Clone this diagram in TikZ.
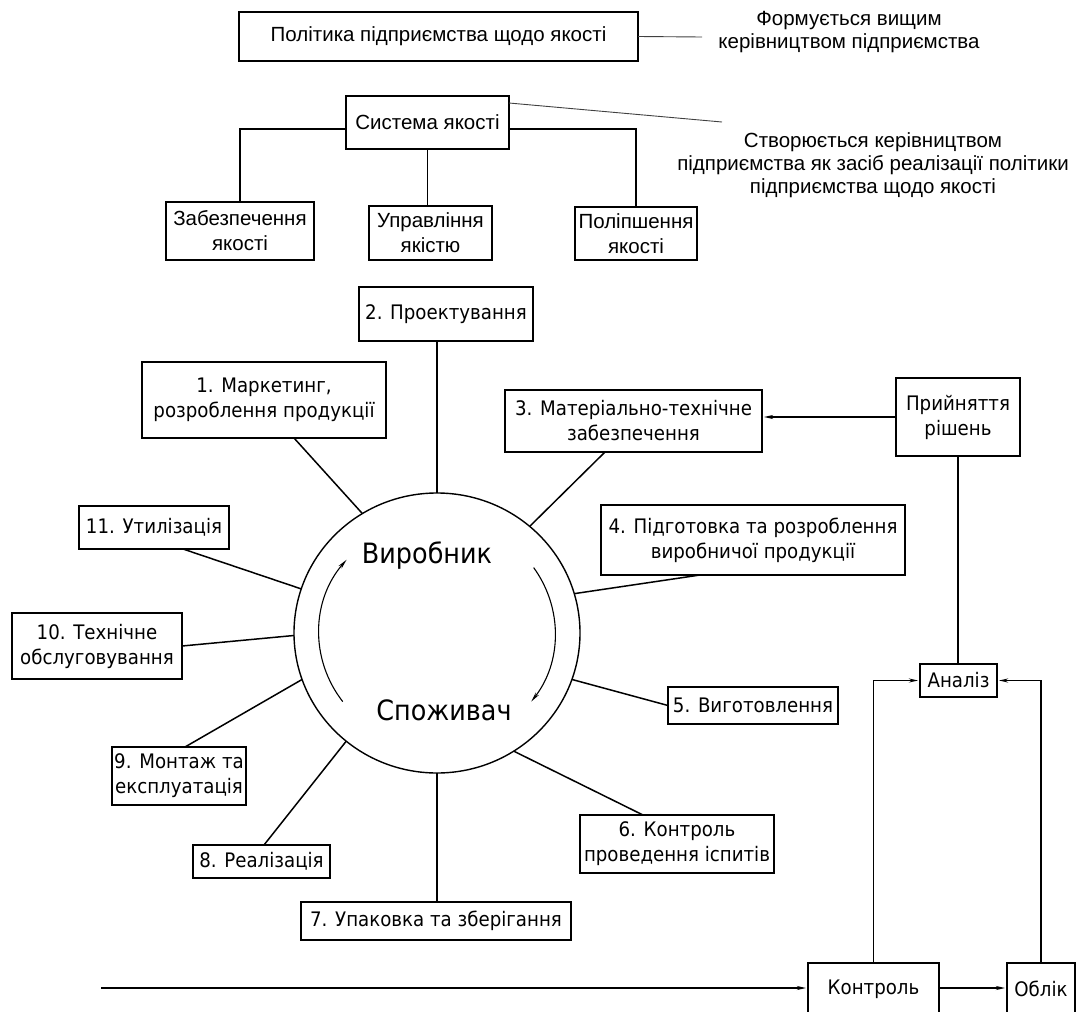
\documentclass[tikz,border=0pt]{standalone}
\usepackage{fontspec}
\usetikzlibrary{shapes.geometric,arrows.meta,calc}
\newfontfamily\labfont[FakeStretch=0.91]{DejaVu Sans}
\newfontfamily\topfont{Liberation Sans}
\newcommand\labf{\labfont\fontsize{20}{25}\selectfont}
\newcommand\topf{\topfont\fontsize{20.5}{25}\selectfont}
\newcommand\notef{\topfont\fontsize{20.5}{23}\selectfont}
\newcommand\bigf{\labfont\fontsize{28}{30}\selectfont}
\begin{document}
\begin{tikzpicture}[x=1pt,y=-1pt,
  box/.style={draw, line width=1.6pt, inner sep=0pt, outer sep=0pt, align=center, font=\labf},
  tbox/.style={box, font=\topf},
  ln/.style={line width=1.5pt},
  thinln/.style={line width=0.9pt, black!75},
  arr/.style={ln, -{Stealth[length=9pt,width=4pt]}, shorten >=2pt},
  arcarr/.style={line width=1.1pt, -{Stealth[length=10pt,width=4pt]}},
  note/.style={align=center, font=\notef, inner sep=0pt}]
\useasboundingbox (0,0) rectangle (1077,1012);

% top section
\node[tbox, minimum width=399pt, minimum height=49pt] (pol) at (438.5,36.5) {Політика підприємства щодо якості};
\coordinate (polend) at (702,37);
\draw[thinln] (pol.east) -- (polend);
\node[note] (note1) at (849,32.5) {Формується вищим\\керівництвом підприємства};

\node[tbox, minimum width=163pt, minimum height=53pt] (sys) at (427.5,122.5) {Система якості};
\coordinate (sysend) at (722,122);
\draw[thinln] ([yshift=-7pt]sys.north east) -- (sysend);
\node[note] (note2) at (873,165) {Створюється керівництвом\\підприємства як засіб реалізації політики\\підприємства щодо якості};

\node[tbox, minimum width=148pt, minimum height=58pt] (zab) at (240,231) {Забезпечення\\якості};
\node[tbox, minimum width=123pt, minimum height=54pt] (upr) at (430.5,233) {Управління\\якістю};
\node[tbox, minimum width=122pt, minimum height=53pt] (pok) at (636,233.5) {Поліпшення\\якості};
\draw[ln] ([yshift=-6.5pt]sys.west) -| (zab.north);
\draw[ln] ([yshift=-6.5pt]sys.east) -| (pok.north);
\draw[ln] (sys.south) -- (sys.south |- upr.north);

% circle
\node[ellipse, draw, line width=1.4pt, minimum width=286pt, minimum height=280pt, inner sep=0pt, outer sep=0pt] (circ) at (437,633) {};
\node[font=\bigf, anchor=base, inner sep=0pt] (vyr) at (427,563) {Виробник};
\node[font=\bigf, anchor=base, inner sep=0pt] (spo) at (444,720) {Споживач};
\draw[arcarr] ([shift={(-35:118 and 114)}]circ.center) arc[start angle=-35, end angle=37, x radius=118, y radius=114];
\draw[arcarr] ([shift={(-217:118 and 114)}]circ.center) arc[start angle=-217, end angle=-140, x radius=118, y radius=114];

% stage boxes
\node[box, minimum width=174pt, minimum height=54pt] (b2) at (446,314) {2. Проектування};
\node[box, minimum width=244pt, minimum height=76pt] (b1) at (264,400) {1. Маркетинг,\\розроблення продукції};
\node[box, minimum width=257pt, minimum height=62pt] (b3) at (633.5,421) {3. Матеріально-технічне\\забезпечення};
\node[box, minimum width=304pt, minimum height=70pt] (b4) at (753,540) {4. Підготовка та розроблення\\виробничої продукції};
\node[box, minimum width=150pt, minimum height=43pt] (b11) at (154,527.5) {11. Утилізація};
\node[box, minimum width=170pt, minimum height=66pt] (b10) at (97,646) {10. Технічне\\обслуговування};
\node[box, minimum width=170pt, minimum height=37pt] (b5) at (753,705.5) {5. Виготовлення};
\node[box, minimum width=134pt, minimum height=58pt] (b9) at (179,776) {9. Монтаж та\\експлуатація};
\node[box, minimum width=194pt, minimum height=58pt] (b6) at (677,844) {6. Контроль\\проведення іспитів};
\node[box, minimum width=137pt, minimum height=33pt] (b8) at (261.5,861.5) {8. Реалізація};
\node[box, minimum width=270pt, minimum height=38pt] (b7) at (436,921) {7. Упаковка та зберігання};

% spokes
\draw[ln] (circ.north) -- (circ.north |- b2.south);
\draw[ln] (circ.122) -- ([xshift=30pt]b1.south);
\draw[ln] (circ.49) -- ([xshift=-28.5pt]b3.south);
\draw[ln] (circ.16) -- ([xshift=-53pt]b4.south);
\draw[ln] (circ.-19) -- (b5.west);
\draw[ln] (circ.-57) -- ([xshift=-34pt]b6.north);
\draw[ln] (circ.south) -- (circ.south |- b7.north);
\draw[ln] (circ.230) -- ([xshift=2.5pt]b8.north);
\draw[ln] (circ.199) -- ([xshift=6pt]b9.north);
\draw[ln] (circ.181) -- (b10.east);
\draw[ln] (circ.162) -- ([xshift=29pt]b11.south);

% right side
\node[box, minimum width=124pt, minimum height=78pt] (pr) at (958,417) {Прийняття\\рішень};
\node[box, minimum width=77pt, minimum height=33pt] (an) at (958.5,680.5) {Аналіз};
\node[box, minimum width=131pt, minimum height=52pt] (kon) at (873.5,989) {Контроль};
\node[box, minimum width=68pt, minimum height=52pt] (obl) at (1041,989) {Облік};
\coordinate (inl) at (101,988);

\draw[arr] (pr.west) -- (pr.west -| b3.east);
\draw[ln] (pr.south) -- (pr.south |- an.north);
\draw[arr] (kon.north) |- (an.west);
\draw[arr] (obl.north) |- (an.east);
\draw[arr] ([yshift=1pt]kon.east) -- ([yshift=1pt]obl.west);
\draw[arr] (inl) -- (inl -| kon.west);
\end{tikzpicture}
\end{document}
